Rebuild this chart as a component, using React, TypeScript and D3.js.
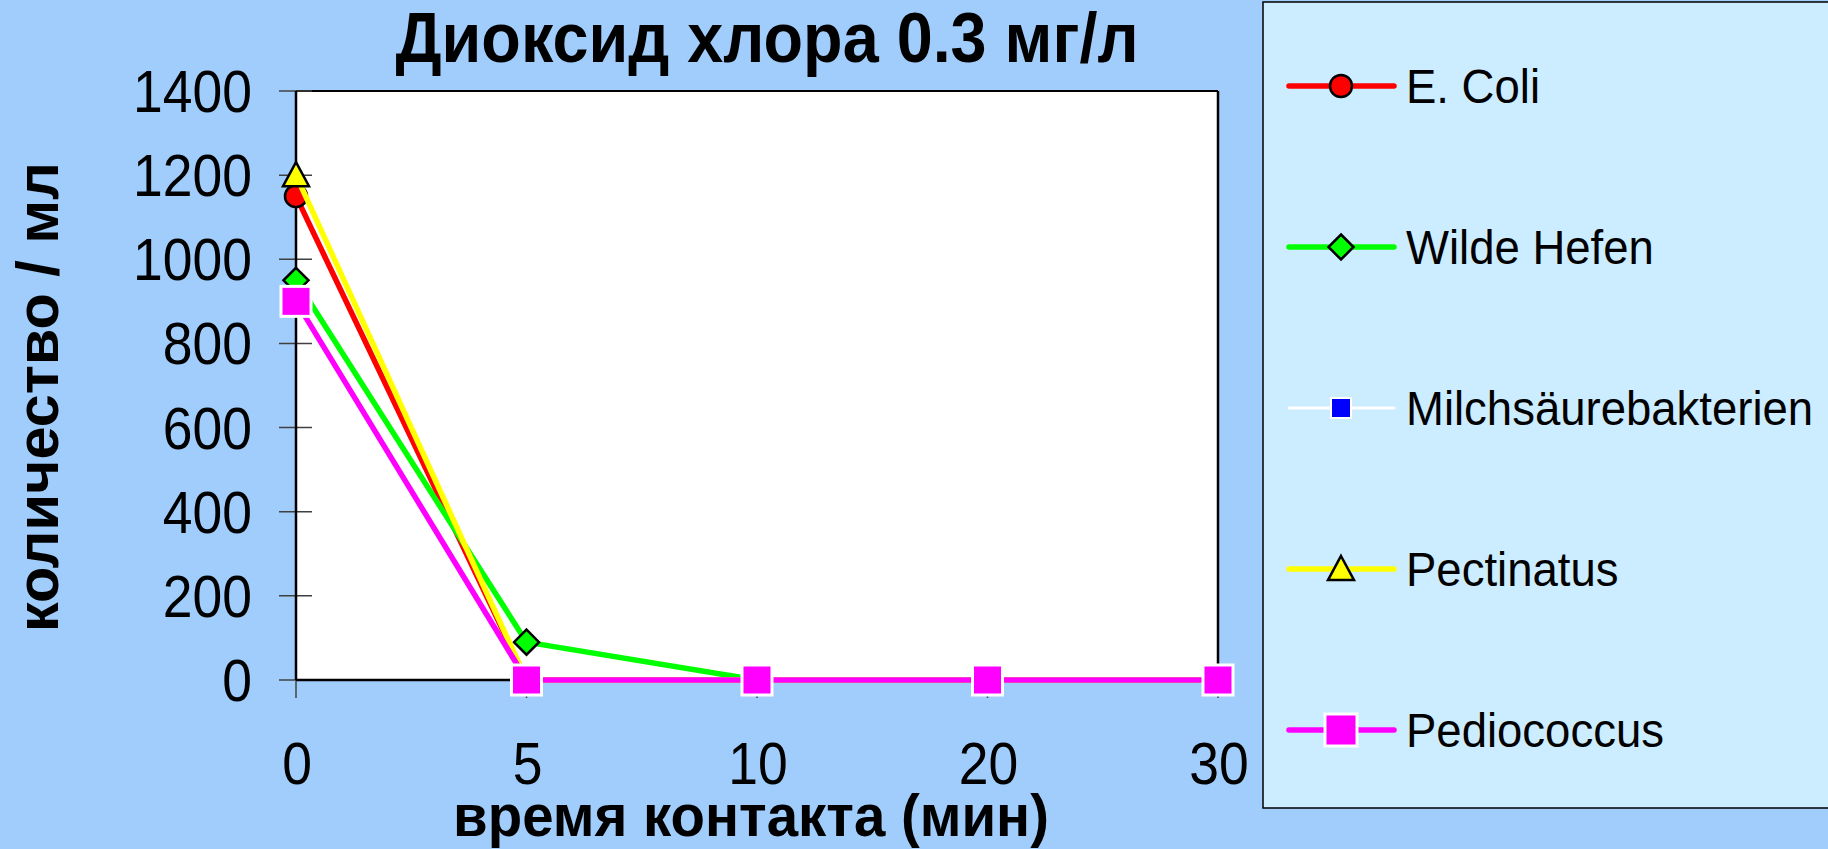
import React from "react";
import * as d3 from "d3";

const categories = ["0", "5", "10", "20", "30"];
const yTicks = [0, 200, 400, 600, 800, 1000, 1200, 1400];
const eColi = [1150, 0, 0, 0, 0];
const wildeHefen = [950, 90, 0, 0, 0];
const milchsaeure = [900, 0, 0, 0, 0];
const pectinatus = [1200, 0, 0, 0, 0];
const pediococcus = [900, 0, 0, 0, 0];
const seriesNames = ["E. Coli", "Wilde Hefen", "Milchsäurebakterien", "Pectinatus", "Pediococcus"];

const W = 1828, H = 849;
const FONT = "'Liberation Sans', Arial, sans-serif";

type SeriesDef = { name: string; values: number[]; color: string; width: number; marker: string; fill: string; mstroke: string; msw: number; size: number };

const series: SeriesDef[] = [
  { name: seriesNames[0], values: eColi, color: "#FF0000", width: 5.5, marker: "circle", fill: "#FF0000", mstroke: "#000", msw: 2.5, size: 22 },
  { name: seriesNames[1], values: wildeHefen, color: "#00FF00", width: 5.5, marker: "diamond", fill: "#00FF00", mstroke: "#000", msw: 2.5, size: 25 },
  { name: seriesNames[2], values: milchsaeure, color: "#FFFFFF", width: 3, marker: "square", fill: "#0000FF", mstroke: "#FFFFFF", msw: 2, size: 19 },
  { name: seriesNames[3], values: pectinatus, color: "#FFFF00", width: 5.5, marker: "triangle", fill: "#FFFF00", mstroke: "#000", msw: 2.5, size: 26 },
  { name: seriesNames[4], values: pediococcus, color: "#FF00FF", width: 5.5, marker: "square", fill: "#FF00FF", mstroke: "#FFFFFF", msw: 3, size: 30 },
];

function Marker({ type, x, y, size, fill, stroke, sw }: { type: string; x: number; y: number; size: number; fill: string; stroke: string; sw: number }) {
  const h = size / 2;
  if (type === "circle") return <circle cx={x} cy={y} r={h} fill={fill} stroke={stroke} strokeWidth={sw} />;
  if (type === "square") return <rect x={x - h} y={y - h} width={size} height={size} fill={fill} stroke={stroke} strokeWidth={sw} />;
  if (type === "diamond") return <path d={`M${x},${y - h}L${x + h},${y}L${x},${y + h}L${x - h},${y}Z`} fill={fill} stroke={stroke} strokeWidth={sw} strokeLinejoin="miter" />;
  return <path d={`M${x},${y - h}L${x + h},${y + h * 0.85}L${x - h},${y + h * 0.85}Z`} fill={fill} stroke={stroke} strokeWidth={sw} strokeLinejoin="miter" />;
}

function T({ x, y, size, sx = 1, rotate = 0, anchor = "start", bold = false, children }: any) {
  return (
    <text
      transform={`translate(${x},${y}) rotate(${rotate}) scale(${sx},1)`}
      fontSize={size}
      fontFamily={FONT}
      fontWeight={bold ? "bold" : "normal"}
      textAnchor={anchor}
      fill="#000"
    >
      {children}
    </text>
  );
}

export default function App() {
  const x = d3.scalePoint<string>().domain(categories).range([296, 1218]);
  const y = d3.scaleLinear().domain([0, 1400]).range([680, 91]);
  const line = d3
    .line<number>()
    .x((_, i) => x(categories[i]) as number)
    .y((d) => y(d));

  const legendY = d3.scalePoint<string>().domain(seriesNames).range([86, 730]);

  return (
    <div style={{ position: "fixed", left: 0, top: 0, width: W, height: H }}>
      <svg width={W} height={H} style={{ display: "block" }}>
        <rect x={0} y={0} width={W} height={H} fill="#A0CDFB" />
        <rect x={296} y={y(1400)} width={1218 - 296} height={y(0) - y(1400)} fill="#FFFFFF" />
        <line x1={296} x2={1218} y1={y(1400)} y2={y(1400)} stroke="#000" strokeWidth={2} />
        <line x1={1218} x2={1218} y1={y(1400)} y2={y(0)} stroke="#000" strokeWidth={2.5} />
        {yTicks.map((t) => (
          <g key={t}>
            <line x1={279} x2={312} y1={y(t)} y2={y(t)} stroke="#404040" strokeWidth={1.5} />
            <T x={252} y={y(t) + 21} size={58.6} sx={0.912} anchor="end">{String(t)}</T>
          </g>
        ))}
        {categories.map((c) => (
          <g key={c}>
            <line x1={x(c)} x2={x(c)} y1={y(0)} y2={y(0) + 18} stroke="#404040" strokeWidth={1.5} />
            <T x={(x(c) as number) + 1} y={784} size={58.6} sx={0.912} anchor="middle">{c}</T>
          </g>
        ))}
        <line x1={296} x2={296} y1={y(1400)} y2={y(0)} stroke="#000" strokeWidth={2.5} />
        <line x1={296} x2={1218} y1={y(0)} y2={y(0)} stroke="#000" strokeWidth={2.5} />
        {series.map((s) => (
          <g key={s.name}>
            <path d={line(s.values) || ""} fill="none" stroke={s.color} strokeWidth={s.width} strokeLinejoin="round" />
            {s.values.map((v, i) => (
              <Marker key={i} type={s.marker} x={x(categories[i]) as number} y={y(v)} size={s.size} fill={s.fill} stroke={s.mstroke} sw={s.msw} />
            ))}
          </g>
        ))}
        <T x={767} y={62} size={70} sx={0.925} anchor="middle" bold>Диоксид хлора 0.3 мг/л</T>
        <T x={751} y={836} size={60} sx={0.94} anchor="middle" bold>время контакта (мин)</T>
        <T x={58} y={397} size={60} sx={0.99} rotate={-90} anchor="middle" bold>количество / мл</T>
        <rect x={1263} y={2} width={620} height={806} fill="#CCECFF" stroke="#000" strokeWidth={1.5} />
        {series.map((s) => {
          const ly = legendY(s.name) as number;
          return (
            <g key={s.name}>
              <line x1={1289} x2={1394} y1={ly} y2={ly} stroke={s.color} strokeWidth={s.width} strokeLinecap="round" />
              <Marker type={s.marker} x={1341} y={ly} size={s.marker === "square" ? (s.size < 25 ? 20 : 32) : s.size} fill={s.fill} stroke={s.mstroke} sw={s.msw} />
              <T x={1406} y={ly + 17} size={47.5} sx={0.958}>{s.name}</T>
            </g>
          );
        })}
      </svg>
    </div>
  );
}
